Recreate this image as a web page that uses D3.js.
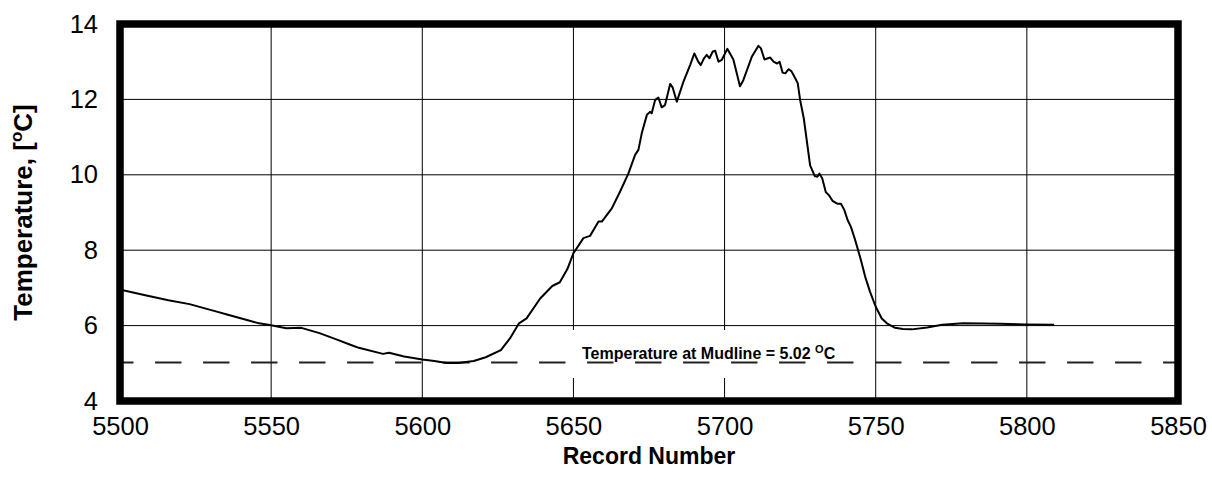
<!DOCTYPE html>
<html>
<head>
<meta charset="utf-8">
<script src="https://cdn.jsdelivr.net/npm/d3@7"></script>
<style>
  html, body { margin: 0; padding: 0; background: #fff; }
  svg { display: block; font-family: "Liberation Sans", Arial, sans-serif; }
</style>
</head>
<body>
<svg id="chart" width="1212" height="487"></svg>
<script>
const records = [5500, 5501, 5508, 5516, 5523, 5532, 5536, 5542, 5546, 5550, 5555, 5560, 5566, 5572, 5576, 5579, 5587, 5589, 5594, 5600, 5604, 5608, 5612, 5617, 5621, 5626, 5629, 5632, 5634.5, 5639, 5643, 5645.5, 5648, 5650, 5653.3, 5655.5, 5658.3, 5659.4, 5662.7, 5665.4, 5668.2, 5670.4, 5671.5, 5672.6, 5674.3, 5675.4, 5675.9, 5677, 5678.1, 5679.2, 5680.3, 5682, 5682.8, 5684.2, 5686.4, 5688.6, 5690, 5691.3, 5692.1, 5693.2, 5694.1, 5695, 5696.1, 5696.9, 5698, 5699.1, 5700.9, 5701.8, 5702.9, 5705.1, 5706.2, 5709, 5711.2, 5712, 5713.2, 5715.1, 5716.2, 5717.4, 5718.2, 5719.2, 5720.1, 5721.2, 5722.1, 5723.5, 5724.2, 5725, 5726.2, 5728.3, 5729.8, 5730.7, 5731.4, 5732.3, 5733.5, 5734.6, 5735.7, 5737.4, 5738.5, 5739.6, 5740.7, 5741.8, 5743.2, 5745.1, 5746.5, 5748.1, 5750, 5752, 5753.7, 5756.4, 5759, 5762, 5767, 5772, 5779, 5791, 5800, 5809];
const temperatures = [6.95, 6.94, 6.81, 6.67, 6.57, 6.37, 6.28, 6.15, 6.06, 6.01, 5.93, 5.94, 5.80, 5.62, 5.50, 5.41, 5.25, 5.28, 5.18, 5.10, 5.06, 5.01, 5.01, 5.06, 5.16, 5.35, 5.66, 6.06, 6.19, 6.72, 7.05, 7.15, 7.50, 7.92, 8.32, 8.38, 8.76, 8.76, 9.11, 9.55, 10.04, 10.53, 10.66, 11.10, 11.59, 11.67, 11.63, 11.98, 12.05, 11.79, 11.85, 12.41, 12.32, 11.94, 12.47, 12.91, 13.22, 13.00, 12.91, 13.09, 13.18, 13.09, 13.27, 13.29, 13.00, 13.05, 13.34, 13.22, 13.06, 12.35, 12.51, 13.13, 13.42, 13.36, 13.06, 13.11, 13.00, 12.95, 13.00, 12.71, 12.69, 12.80, 12.75, 12.54, 12.43, 11.98, 11.50, 10.25, 9.97, 9.95, 10.03, 9.91, 9.54, 9.45, 9.31, 9.23, 9.23, 9.07, 8.80, 8.62, 8.27, 7.74, 7.30, 6.90, 6.50, 6.19, 6.06, 5.94, 5.91, 5.90, 5.95, 6.02, 6.06, 6.05, 6.03, 6.02];
const xTicks = [5500, 5550, 5600, 5650, 5700, 5750, 5800, 5850];
const yTicks = [4, 6, 8, 10, 12, 14];
const mudlineTemp = 5.02;
const mudlineLabel = "Temperature at Mudline = 5.02 ";
const xTitle = "Record Number";
const yTitle = "Temperature, [";

const svg = d3.select("#chart");
const L = 120, R = 1178, T = 24, B = 401;
const x = d3.scaleLinear().domain([5500, 5850]).range([L, R]);
const y = d3.scaleLinear().domain([4, 14]).range([B, T]);

// gridlines
const grid = svg.append("g");
grid.selectAll("line.h").data(yTicks).join("line")
  .attr("x1", L).attr("x2", R)
  .attr("y1", d => y(d)).attr("y2", d => y(d))
  .attr("stroke", "#000").attr("stroke-width", 1);
grid.selectAll("line.v").data(xTicks).join("line")
  .attr("y1", T).attr("y2", B)
  .attr("x1", d => x(d)).attr("x2", d => x(d))
  .attr("stroke", "#000").attr("stroke-width", 1);

// white box behind annotation
svg.append("rect")
  .attr("x", 566).attr("y", 330).attr("width", 296).attr("height", 48)
  .attr("fill", "#fff");

// mudline dashed
svg.append("line")
  .attr("x1", L).attr("x2", R)
  .attr("y1", y(mudlineTemp)).attr("y2", y(mudlineTemp))
  .attr("stroke", "#222").attr("stroke-width", 2)
  .attr("stroke-dasharray", "26.5,21.5").attr("stroke-dashoffset", 13);

// annotation text
const ann = svg.append("text")
  .attr("x", 582).attr("y", 359)
  .attr("font-size", 16).attr("font-weight", "bold").attr("fill", "#000");
ann.append("tspan").text(mudlineLabel);
ann.append("tspan").attr("font-size", 11).attr("dy", -6).text("O");
ann.append("tspan").attr("dy", 6).text("C");

// curve
const pts = records.map((r, i) => [r, temperatures[i]]);
svg.append("path")
  .datum(pts)
  .attr("fill", "none").attr("stroke", "#000").attr("stroke-width", 2)
  .attr("stroke-linejoin", "round")
  .attr("d", d3.line().x(d => x(d[0])).y(d => y(d[1])));

// axes (labels only)
const xa = svg.append("g").attr("transform", `translate(0,${B})`)
  .call(d3.axisBottom(x).tickValues(xTicks).tickSize(0).tickPadding(16).tickFormat(d3.format("d")));
const ya = svg.append("g").attr("transform", `translate(${L},0)`)
  .call(d3.axisLeft(y).tickValues(yTicks).tickSize(0).tickPadding(22).tickFormat(d3.format("d")));
[xa, ya].forEach(a => {
  a.select(".domain").remove();
  a.selectAll("text").attr("font-size", 25.5).attr("font-family", "'Liberation Sans', Arial, sans-serif").attr("fill", "#000");
});

// frame
svg.append("rect")
  .attr("x", L).attr("y", T).attr("width", R - L).attr("height", B - T)
  .attr("fill", "none").attr("stroke", "#000").attr("stroke-width", 7.5);

// titles
svg.append("text")
  .attr("x", (L + R) / 2).attr("y", 464)
  .attr("text-anchor", "middle").attr("font-size", 23).attr("font-weight", "bold")
  .text(xTitle);

const yt = svg.append("text")
  .attr("transform", `translate(32,${(T + B) / 2}) rotate(-90)`)
  .attr("text-anchor", "middle").attr("font-size", 26).attr("font-weight", "bold");
yt.append("tspan").text(yTitle);
yt.append("tspan").attr("font-size", 17).attr("dy", -10).text("o");
yt.append("tspan").attr("dy", 10).text("C]");
</script>
</body>
</html>
